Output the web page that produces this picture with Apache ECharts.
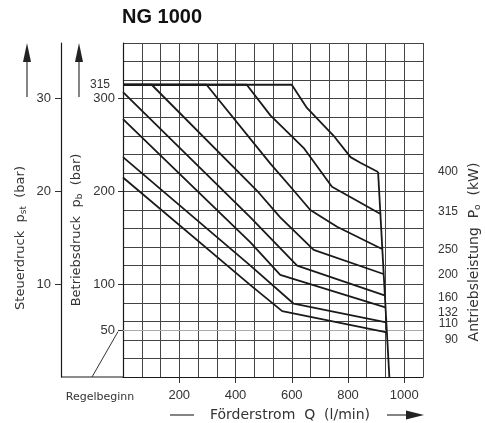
<!DOCTYPE html>
<html>
<head>
<meta charset="utf-8">
<script src="https://cdn.jsdelivr.net/npm/echarts@6/dist/echarts.min.js"></script>
<style>
    html, body { margin: 0; padding: 0; background: #fff; }
    #chart { width: 485px; height: 423px; }
</style>
</head>
<body>
<div id="chart"></div>
<script>
// Förderstrom Q (l/min) -> Betriebsdruck p_b (bar), one curve per Antriebsleistung
let q400 = [0, 600, 654, 749, 809, 844, 907];
let p400 = [315, 315, 290, 260, 237, 231, 221];
let q315 = [0, 440, 524, 642, 743, 832, 914];
let p315 = [315, 315, 282, 247, 205, 190, 176];
let q250 = [0, 297, 524, 607, 666, 761, 921];
let p250 = [315, 315, 230, 201, 180, 162, 138];
let q200 = [0, 102, 476, 559, 678, 926];
let p200 = [315, 315, 201, 172, 137, 111];
let q160 = [0, 453, 619, 930];
let p160 = [307, 172, 120, 88];
let q132 = [0, 453, 559, 933];
let p132 = [278, 145, 110, 75];
let q110 = [0, 453, 607, 936];
let p110 = [237, 120, 79, 59];
let q90 = [0, 453, 566, 938];
let p90 = [215, 99, 71, 48];

// max flow limit
let qLimit = [907, 947];
let pLimit = [221, 0];

let kwNames = ['400', '315', '250', '200', '160', '132', '110', '90'];
let kwLabelAt = [221, 178, 137, 110, 85, 69, 58, 40];

let qTicks = [200, 400, 600, 800, 1000];
let pbTicks = [50, 100, 200, 300];
let pbLabels = [50, 100, 200, 300, 315];
let pstTicks = [10, 20, 30];
let regelbeginn = 50;

let zip = function (q, p) {
    return q.map(function (v, i) {
        return [v, p[i]];
    });
};

let curves = [
    [q400, p400], [q315, p315], [q250, p250], [q200, p200],
    [q160, p160], [q132, p132], [q110, p110], [q90, p90]
];

let ink = '#1a1a1a';
let gridInk = '#444';
let font = 'Liberation Sans';
let qMax = 3200 / 3;

let series = curves.map(function (c, i) {
    return {
        name: kwNames[i] + ' kW',
        type: 'line',
        data: zip(c[0], c[1]),
        symbol: 'none',
        silent: true,
        lineStyle: {color: ink, width: 1.8},
        z: 5
    };
});
series.push({
    name: 'Qmax',
    type: 'line',
    data: zip(qLimit, pLimit),
    symbol: 'none',
    silent: true,
    lineStyle: {color: ink, width: 1.8},
    z: 5,
    markLine: {
        silent: true,
        symbol: 'none',
        label: {show: false},
        lineStyle: {color: '#aaa', width: 1, type: 'solid'},
        data: [{yAxis: regelbeginn}]
    }
});

let hidden = {
    axisLine: {show: false},
    axisTick: {show: false},
    axisLabel: {show: false}
};

let chart = echarts.init(document.getElementById('chart'));
let option = {
    animation: false,
    backgroundColor: '#fff',
    grid: {left: 123, right: 62, top: 43, bottom: 46},
    xAxis: [
        {
            type: 'value',
            min: 0,
            max: qMax,
            position: 'bottom',
            axisLine: {show: true, lineStyle: {color: ink, width: 1.2}},
            axisTick: {show: true, customValues: qTicks, length: 6, lineStyle: {color: '#333'}},
            axisLabel: {
                customValues: qTicks, margin: 12, color: '#333', fontSize: 13, fontFamily: font,
                formatter: function (v) {
                    return String(v);
                }
            },
            splitLine: {show: false}
        },
        Object.assign({
            // grid lines every 200/3 l/min
            type: 'value',
            min: 0,
            max: qMax,
            interval: 200 / 3,
            position: 'top',
            splitLine: {show: true, lineStyle: {color: gridInk, width: 1}}
        }, hidden)
    ],
    yAxis: [
        {
            type: 'value',
            min: 0,
            max: 360,
            position: 'left',
            axisLine: {show: true, lineStyle: {color: ink, width: 1.2}},
            axisTick: {show: true, customValues: pbTicks, length: 5, lineStyle: {color: '#333'}},
            axisLabel: {
                customValues: pbLabels,
                margin: 8,
                color: '#333',
                fontSize: 13,
                fontFamily: font,
                formatter: function (v) {
                    return v === 315 ? '{s|315}' : String(v);
                },
                rich: {
                    s: {fontSize: 12, fontFamily: font, color: '#333', padding: [0, 5, 0, 0]}
                }
            },
            splitLine: {show: false}
        },
        {
            type: 'value',
            min: 0,
            max: 360,
            position: 'right',
            axisLine: {show: false},
            axisTick: {show: false},
            splitLine: {show: false},
            axisLabel: {
                customValues: kwLabelAt,
                align: 'right',
                margin: 35,
                color: '#333',
                fontSize: 12,
                fontFamily: font,
                formatter: function (v) {
                    return kwNames[kwLabelAt.indexOf(v)];
                }
            }
        },
        {
            type: 'value',
            min: 0,
            max: 36,
            position: 'left',
            offset: 62,
            axisLine: {show: true, lineStyle: {color: ink, width: 1.2}},
            axisTick: {show: true, customValues: pstTicks, length: 6, lineStyle: {color: '#333'}},
            axisLabel: {customValues: pstTicks, margin: 10, color: '#333', fontSize: 13, fontFamily: font},
            splitLine: {show: false}
        },
        Object.assign({
            // grid lines every 20 bar
            type: 'value',
            min: 0,
            max: 360,
            interval: 20,
            position: 'right',
            splitLine: {show: true, lineStyle: {color: gridInk, width: 1}}
        }, hidden)
    ],
    series: series
};
chart.setOption(option);

// decorations placed from the axes
let origin = chart.convertToPixel({gridIndex: 0}, [0, 0]);
let p50 = chart.convertToPixel({gridIndex: 0}, [0, regelbeginn]);
let stX = origin[0] - 62;
let subRich = {
    sub: {fontSize: 9, fontFamily: 'DejaVu Sans', fill: '#333', verticalAlign: 'bottom', lineHeight: 9}
};
let upArrow = function (x) {
    return [
        {type: 'line', shape: {x1: x, y1: 97, x2: x, y2: 58}, style: {stroke: '#333', lineWidth: 1.2}},
        {type: 'polygon', shape: {points: [[x, 43], [x - 4, 62], [x + 4, 62]]}, style: {fill: '#222'}}
    ];
};

chart.setOption({
    graphic: [
        {
            type: 'text', left: 122, top: 7,
            style: {text: 'NG 1000', fontSize: 20, fontWeight: 'bold', fontFamily: font, fill: '#111'}
        },
        {
            type: 'line',
            shape: {x1: stX, y1: origin[1], x2: origin[0], y2: origin[1]},
            style: {stroke: ink, lineWidth: 1.2}
        },
        {
            type: 'line',
            shape: {x1: 92, y1: origin[1], x2: p50[0] - 5, y2: p50[1] + 1},
            style: {stroke: '#333', lineWidth: 1}
        },
        {
            type: 'text', x: 100, y: 397,
            style: {text: 'Regelbeginn', fontSize: 11, fontFamily: 'DejaVu Sans', fill: '#333', align: 'center', verticalAlign: 'middle'}
        },
        {type: 'line', shape: {x1: 170, y1: 415, x2: 194, y2: 415}, style: {stroke: '#333', lineWidth: 1.2}},
        {
            type: 'text', x: 290, y: 415,
            style: {text: 'Förderstrom  Q  (l/min)', fontSize: 14, fontFamily: 'DejaVu Sans', fill: '#333', align: 'center', verticalAlign: 'middle'}
        },
        {type: 'line', shape: {x1: 387, y1: 415, x2: 408, y2: 415}, style: {stroke: '#333', lineWidth: 1.2}},
        {type: 'polygon', shape: {points: [[424, 415], [406, 410.5], [406, 419.5]]}, style: {fill: '#222'}},
        {
            type: 'text', x: 21, y: 238, rotation: Math.PI / 2,
            style: {
                text: 'Steuerdruck  p{sub|st}  (bar)', fontSize: 13, lineHeight: 15, fontFamily: 'DejaVu Sans', fill: '#333',
                align: 'center', verticalAlign: 'middle', rich: subRich
            }
        },
        {
            type: 'text', x: 77, y: 230, rotation: Math.PI / 2,
            style: {
                text: 'Betriebsdruck  p{sub|b}  (bar)', fontSize: 13, lineHeight: 15, fontFamily: 'DejaVu Sans', fill: '#333',
                align: 'center', verticalAlign: 'middle', rich: subRich
            }
        },
        {
            type: 'text', x: 474, y: 252, rotation: Math.PI / 2,
            style: {
                text: 'Antriebsleistung  P{sub|o}  (kW)', fontSize: 14, lineHeight: 16, fontFamily: 'DejaVu Sans', fill: '#333',
                align: 'center', verticalAlign: 'middle', rich: subRich
            }
        }
    ].concat(upArrow(27), upArrow(79))
});
</script>
</body>
</html>
